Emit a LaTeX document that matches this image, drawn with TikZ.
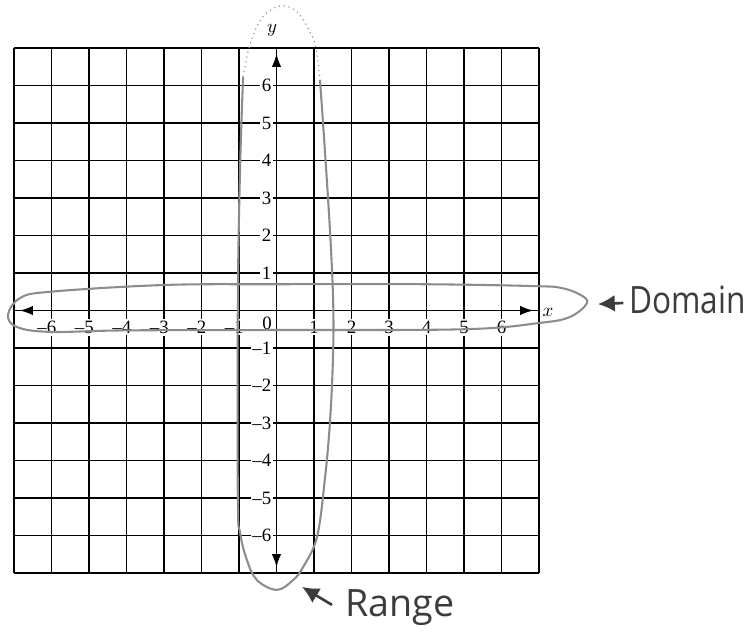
\documentclass[tikz,border=0pt]{standalone}
\usepackage{fontspec}
\setmainfont{Liberation Serif}
\newfontfamily\handfont{Open Sans}
\usepackage{tikz}
\usetikzlibrary{arrows.meta,positioning,calc}
\definecolor{pencil}{HTML}{8C8C8C}
\definecolor{inkmark}{HTML}{3C3C3C}

\begin{document}
\begin{tikzpicture}[x=0.7cm,y=0.7cm,
  gridline/.style={line width=0.85pt,black},
  axisline/.style={line width=0.9pt,black,{Latex[length=7pt,width=5pt]}-{Latex[length=7pt,width=5pt]}},
  ticklabel/.style={fill=white,inner sep=1pt,font=\normalsize},
  loopline/.style={draw=pencil,line width=1.1pt},
  handnote/.style={font=\handfont\fontsize{20}{20}\selectfont,text=inkmark,inner sep=0pt},
  notearrow/.style={draw=inkmark,line width=1.4pt,-{Latex[length=9pt,width=9pt]}}]
\path[use as bounding box] (-7.373,-8.733) rectangle (12.467,8.28);
% grid and axes
\foreach \k in {-7,...,7}{
  \draw[gridline] (\k,-7) -- (\k,7);
  \draw[gridline] (-7,\k) -- (7,\k);
}
\coordinate (xleft) at (-6.85,0);
\coordinate (xright) at (6.85,0);
\coordinate (ytop) at (0,6.85);
\coordinate (ybottom) at (0,-6.85);
\draw[axisline] (xleft) -- (xright);
\draw[axisline] (ybottom) -- (ytop);
\foreach \k in {1,...,6}{
  \node[ticklabel,anchor=east] (yp\k) at (-0.08,\k) {\k};
  \node[ticklabel,anchor=east] (yn\k) at (-0.08,-\k) {--\k};
  \node[ticklabel] (xp\k) at (\k,-0.45) {\k};
  \node[ticklabel] (xn\k) at (-\k,-0.45) {\llap{--}\k};
}
\node[ticklabel] (zero) at (-0.25,-0.33) {0};
\node (xlab) at (7.24,-0.04) {$x$};
\node (ylab) at (-0.12,7.48) {$y$};
% domain loop
\draw[loopline] plot[smooth cycle,tension=0.6] coordinates {
  (-7.16,-0.12) (-6.84,0.33) (-6.04,0.5) (-3,0.68) (0,0.7) (4,0.7)
  (6.9,0.65) (7.6,0.6) (8.1,0.42) (8.28,0.2) (7.83,-0.17) (7.03,-0.33)
  (5,-0.5) (0,-0.52) (-4,-0.53) (-6.04,-0.57) (-6.92,-0.44)};
% range loop
\draw[loopline] plot[smooth,tension=0.6] coordinates {
  (1.16,6.15) (1.29,4.28) (1.43,2.07) (1.51,0.28) (1.51,-1.13) (1.43,-2.92)
  (1.29,-4.5) (1.08,-6.04) (0.71,-6.84) (0.44,-7.19) (0.01,-7.45) (-0.52,-7.19)
  (-0.79,-6.65) (-0.97,-5.93) (-1.03,-5.05) (-1.03,0.28) (-0.97,3.83) (-0.89,6.23)};
\draw[draw=pencil,line width=0.6pt,dotted] plot[smooth,tension=0.6] coordinates {
  (-0.89,6.23) (-0.71,7.08) (-0.39,7.8) (0.09,8.12) (0.55,7.96) (0.89,7.43)
  (1.05,7.0) (1.16,6.15)};
% notes
\node[handnote,anchor=base west] (domain) at (9.4,-0.07) {\scalebox{0.84}[1]{Domain}};
\coordinate (domaintip) at (8.57,0.17);
\draw[notearrow] ($(domain.base west)+(-0.15,0.27)$) -- (domaintip);
\node[handnote,anchor=base west] (range) at (1.83,-8.17) {Range};
\coordinate (rangetip) at (0.68,-7.37);
\draw[notearrow] ($(range.base west)+(-0.35,0.32)$) -- (rangetip);
\end{tikzpicture}
\end{document}
